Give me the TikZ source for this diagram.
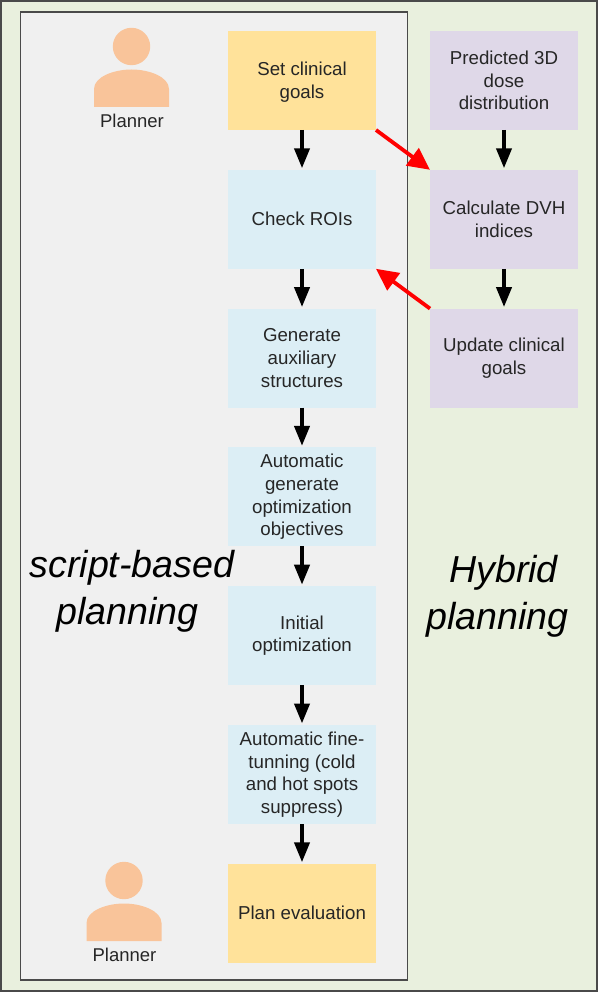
\documentclass[tikz,border=0pt]{standalone}
\usepackage{fontspec}
\setmainfont{Liberation Sans}
\usepackage{xcolor}
\usetikzlibrary{arrows.meta,positioning,calc}
\definecolor{plgreen}{HTML}{E9F0DE}
\definecolor{plgrey}{HTML}{F0F0F0}
\definecolor{plline}{HTML}{4A4A4A}
\definecolor{plyellow}{HTML}{FFE29A}
\definecolor{plblue}{HTML}{DCEEF5}
\definecolor{plpurple}{HTML}{DFD8E8}
\definecolor{plskin}{HTML}{F9C49A}
\definecolor{plred}{HTML}{FF0000}

\begin{document}
\begin{tikzpicture}[
  x=1pt,y=-1pt,
  font=\fontsize{18.7}{22.6}\selectfont,
  base/.style={minimum width=148pt,minimum height=99pt,inner sep=0pt,outer sep=0pt,align=center,text=black!85},
  goal/.style={base,fill=plyellow},
  auto/.style={base,fill=plblue},
  hybrid/.style={base,fill=plpurple},
  title/.style={font=\fontsize{37.6}{47}\selectfont\itshape,align=center,text=black},
  role/.style={font=\fontsize{18.5}{20}\selectfont,text=black!85},
  arr/.style={-{Triangle[length=20pt,width=15pt]},line width=4pt,shorten >=1.5pt},
  redarr/.style={-{Triangle[length=22pt,width=21pt]},line width=3.8pt,color=plred},
  person/.pic={
    \fill[plskin] (0,-36.5) circle (18.7);
    \fill[plskin] (-37.5,24) -- (-37.5,6) .. controls (-37.5,-6) and (-18,-13.5) .. (0,-13.5)
      .. controls (18,-13.5) and (37.5,-6) .. (37.5,6) -- (37.5,24) -- cycle;
  },
  node distance=39.8pt and 54pt
]
\useasboundingbox (0,0) rectangle (598,992);
% panels
\draw[plline,line width=2pt,fill=plgreen] (1,1) rectangle (597,991);
\draw[plline,line width=1.8pt,fill=plgrey] (20.5,12) rectangle (407.5,980);
% script-based column
\node[goal] (goals) at (302,80.5) {\rule{0pt}{17pt}Set clinical\\goals};
\node[auto,below=of goals] (rois) {Check ROIs};
\node[auto,below=of rois] (aux) {Generate\\auxiliary\\structures};
\node[auto,below=of aux] (objectives) {Automatic\\generate\\optimization\\objectives};
\node[auto,below=of objectives] (initial) {Initial\\optimization};
\node[auto,below=of initial] (fine) {Automatic fine-\\tunning (cold\\and hot spots\\suppress)};
\node[goal,below=of fine] (evaluation) {Plan evaluation};
% hybrid column
\node[hybrid,right=of goals] (dose) {Predicted 3D\\dose\\distribution};
\node[hybrid,below=of dose] (dvh) {Calculate DVH\\indices};
\node[hybrid,below=of dvh] (update) {Update clinical\\goals};
% planners
\pic at (131.5,83) {person};
\node[role] (plannertop) at (132,121) {Planner};
\pic at (124,917) {person};
\node[role] (plannerbottom) at (124.5,955) {Planner};
% titles
\node[title] (scripttitle) at (132,591.5) {script-based\\planning\rule{9pt}{0pt}};
\node[title] (hybridtitle) at (503.5,596.5) {Hybrid\\planning\rule{12pt}{0pt}};
% connectors
\draw[arr] (goals) -- (rois);
\draw[arr] (rois) -- (aux);
\draw[arr] (aux) -- (objectives);
\draw[arr] (objectives) -- (initial);
\draw[arr] (initial) -- (fine);
\draw[arr] (fine) -- (evaluation);
\draw[arr] (dose) -- (dvh);
\draw[arr] (dvh) -- (update);
\draw[redarr] (goals.south east) -- (dvh.north west);
\draw[redarr] (update.north west) -- (rois.south east);
\end{tikzpicture}
\end{document}
